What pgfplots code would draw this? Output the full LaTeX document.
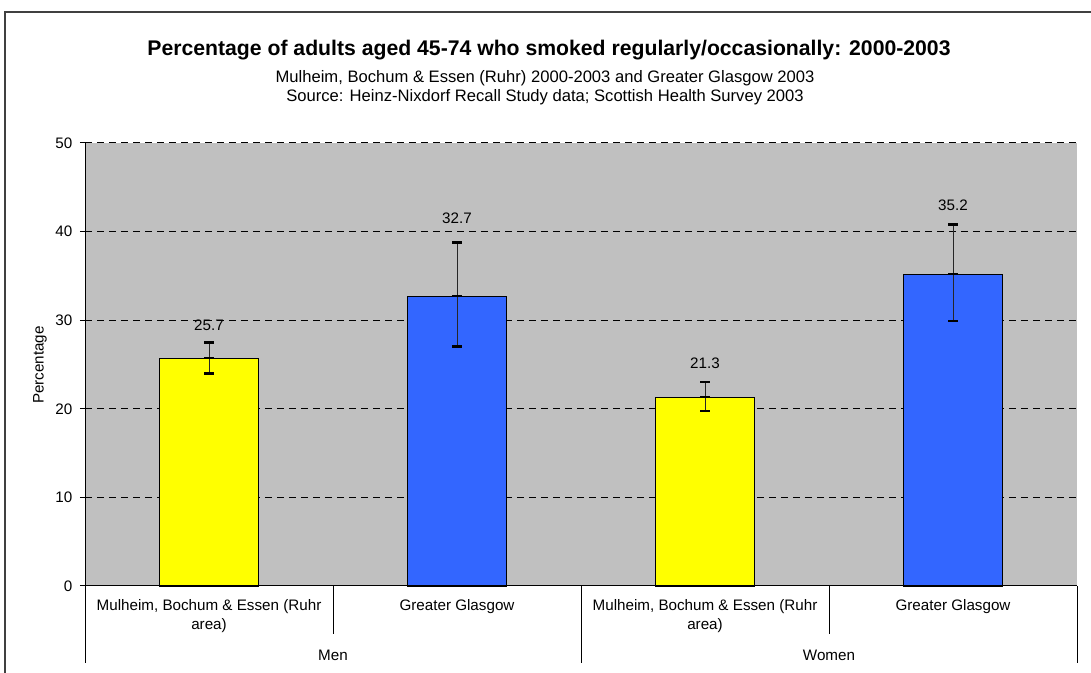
\documentclass[border=0pt]{standalone}
\usepackage{pgfplots}
\pgfplotsset{compat=1.18}
\usepackage{pgfplotstable}
\usepackage{fontspec}
\setmainfont{Liberation Sans}
\definecolor{plotgray}{HTML}{C0C0C0}
\definecolor{barblue}{HTML}{3366FF}
\definecolor{baryellow}{HTML}{FFFF00}

\pgfplotstableread{
x y ep em
0 25.7 1.8 1.7
2 21.3 1.7 1.55
}\ruhr
\pgfplotstableread{
x y ep em
1 32.7 6.05 5.65
3 35.2 5.6 5.3
}\glasgow
\pgfplotstableread{
x y lab
0 29.4 25.7
1 41.5 32.7
2 25.1 21.3
3 43.0 35.2
}\labels

\begin{document}
\begin{tikzpicture}
\begin{scope}[x=0.75pt,y=0.75pt]
\useasboundingbox (0,0) rectangle (1091,673);
\fill[white] (0,0) rectangle (1091,673);
\draw[line width=1pt, black!75] (5,0) -- (5,661) -- (1091,661);
\node[font=\fontsize{15.9}{19}\selectfont\bfseries] at (549,623) {Percentage of adults aged 45-74 who smoked regularly/occasionally: 2000-2003};
\node[font=\fontsize{12.45}{14.25}\selectfont] at (545,595) {Mulheim, Bochum \& Essen (Ruhr) 2000-2003 and Greater Glasgow 2003};
\node[font=\fontsize{12.45}{14.25}\selectfont] at (545,576) {Source: Heinz-Nixdorf Recall Study data; Scottish Health Survey 2003};
\end{scope}
\begin{axis}[
  at={(63.75pt,65.25pt)}, anchor=south west,
  scale only axis, width=744pt, height=332.25pt,
  xmin=-0.5, xmax=3.5, ymin=0, ymax=50,
  axis background/.style={fill=plotgray},
  axis x line*=bottom, axis y line*=left,
  axis line style={black, line width=0.75pt},
  xtick=\empty,
  ytick={0,10,20,30,40,50},
  tick align=outside, major tick length=3.75pt,
  tick style={black, line width=0.75pt},
  ymajorgrids,
  major grid style={black, line width=0.75pt, dash pattern=on 5.25pt off 3.75pt},
  tick label style={font=\fontsize{11.4}{13.7}\selectfont},
  yticklabel style={xshift=-2.25pt},
  /pgf/number format/assume math mode=true,
  clip=false,
]
\addplot[ybar, bar width=0.4, bar shift=0pt, fill=baryellow, draw=black, line width=0.9pt,
  error bars/.cd, y dir=both, y explicit,
  error bar style={black!85, line width=0.75pt},
  error mark options={black, line width=1.8pt, mark size=3.4pt, rotate=90}]
  table[x=x, y=y, y error plus=ep, y error minus=em] {\ruhr};
\addplot[ybar, bar width=0.4, bar shift=0pt, fill=barblue, draw=black, line width=0.9pt,
  error bars/.cd, y dir=both, y explicit,
  error bar style={black!85, line width=0.75pt},
  error mark options={black, line width=1.8pt, mark size=3.4pt, rotate=90}]
  table[x=x, y=y, y error plus=ep, y error minus=em] {\glasgow};
\addplot[only marks, mark=-, mark size=3.4pt, mark options={black, line width=1.8pt}]
  table[x=x, y=y] {\ruhr};
\addplot[only marks, mark=-, mark size=3.4pt, mark options={black, line width=1.8pt}]
  table[x=x, y=y] {\glasgow};
\addplot[draw=none, mark=none, nodes near coords, point meta=explicit symbolic,
  every node near coord/.append style={anchor=center, font=\fontsize{11.4}{13.7}\selectfont}]
  table[x=x, y=y, meta=lab] {\labels};
\end{axis}
\begin{scope}[x=0.75pt,y=0.75pt]
\node[rotate=90, font=\fontsize{11.4}{13.7}\selectfont] at (40,308) {Percentage};
\draw[black, line width=0.75pt] (85,87) -- (85,9.5) (581,87) -- (581,9.5) (1077,87) -- (1077,9.5)
  (333,87) -- (333,39) (829,87) -- (829,39);
\node[align=center, font=\fontsize{11.4}{14.25}\selectfont] at (209,56.5) {Mulheim, Bochum \& Essen (Ruhr\\area)};
\node[font=\fontsize{11.4}{14.25}\selectfont] at (457,66) {Greater Glasgow};
\node[align=center, font=\fontsize{11.4}{14.25}\selectfont] at (705,56.5) {Mulheim, Bochum \& Essen (Ruhr\\area)};
\node[font=\fontsize{11.4}{14.25}\selectfont] at (953,66) {Greater Glasgow};
\node[font=\fontsize{11.4}{14.25}\selectfont] at (333,18) {Men};
\node[font=\fontsize{11.4}{14.25}\selectfont] at (829,18) {Women};
\end{scope}
\end{tikzpicture}
\end{document}
